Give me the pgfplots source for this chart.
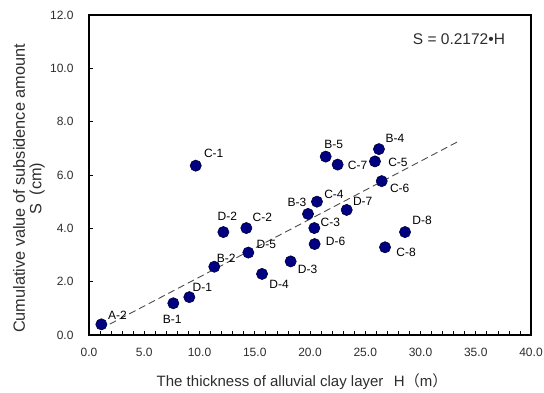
\documentclass[border=0pt]{standalone}
\usepackage{fontspec}
\setmainfont{Liberation Sans}
\newfontfamily\cjk{Noto Sans CJK JP}
\usepackage{pgfplots}
\usepackage{pgfplotstable}
\pgfplotsset{compat=1.18}
\definecolor{navy}{RGB}{0,0,128}
\definecolor{navyedge}{RGB}{0,0,60}
\definecolor{txt}{RGB}{45,45,45}
\pgfplotstableread{
x y lab dx dy
9.66 6.35 C-1 18 12
21.42 6.69 B-5 8 12
22.50 6.39 C-7 20 -1
26.24 6.97 B-4 16 11
25.88 6.51 C-5 23 -1
26.49 5.77 C-6 18 -7
20.63 5.00 C-4 17 7
19.82 4.54 B-3 -11 12
23.32 4.69 D-7 16 9
20.39 4.01 C-3 16 6
20.42 3.41 D-6 21 3
12.16 3.86 D-2 4 16
14.24 4.01 C-2 16 11
14.42 3.09 D-5 18 8
11.34 2.56 B-2 12 8
18.25 2.76 D-3 17 -8
15.66 2.29 D-4 17 -10
28.60 3.86 D-8 17 12
26.79 3.29 C-8 21 -5
9.08 1.42 D-1 13 10
7.63 1.19 B-1 -1 -16
1.12 0.40 A-2 16 9
}\pts
\begin{document}
\begin{tikzpicture}
\path[use as bounding box] (-89pt,-58pt) rectangle (455pt,335pt);
\begin{axis}[
  at={(0pt,0pt)}, anchor=south west,
  scale only axis, width=442pt, height=320pt,
  xmin=0, xmax=40, ymin=0, ymax=12,
  xtick={0,5,...,40}, ytick={0,2,...,12},
  minor x tick num=4,
  tick align=inside, tick pos=left,
  major tick length=4pt, minor tick length=4pt,
  axis line style={line width=1.2pt},
  every tick/.style={black, line width=0.6pt},
  ticklabel style={font=\fontsize{12}{13}\selectfont, text=txt},
  yticklabel style={xshift=-12pt},
  xticklabel style={yshift=-10pt},
  xlabel={The thickness of alluvial clay layer\hspace{0.7em}H{\cjk （}m{\cjk ）}},
  xlabel style={at={(axis description cs:0.482,0)}, anchor=center, yshift=-47pt, font=\fontsize{15}{17}\selectfont, text=txt},
  ylabel={Cumulative value of subsidence amount\\S\hspace{0.5em}(cm)},
  ylabel style={at={(axis description cs:-0.1357,0.458)}, anchor=center, font=\fontsize{16.3}{16.5}\selectfont, text=txt, align=center},
  clip=false,
  /pgf/number format/.cd, fixed, fixed zerofill, precision=1, assume math mode=true, /pgfplots/.cd,
]
\addplot[no marks, line width=0.9pt, color=black!70, dash pattern=on 7pt off 4pt] coordinates {(1.0,0.2172) (33.6,7.298)};
\addplot[only marks, mark=*, mark size=5.6pt,
  mark options={fill=navy, draw=navyedge, line width=0.6pt},
  nodes near coords, point meta=explicit symbolic,
  visualization depends on={\thisrow{dx}\as\dx},
  visualization depends on={\thisrow{dy}\as\dy},
  every node near coord/.append style={anchor=center, xshift=\dx pt, yshift=\dy pt, font=\fontsize{12}{14}\selectfont, text=black, inner sep=0pt}
] table[x=x, y=y, meta=lab] {\pts};
\node[font=\fontsize{15.5}{17}\selectfont, text=txt] at (axis cs:33.48,11.1) {S = 0.2172•H};
\end{axis}
\end{tikzpicture}
\end{document}
